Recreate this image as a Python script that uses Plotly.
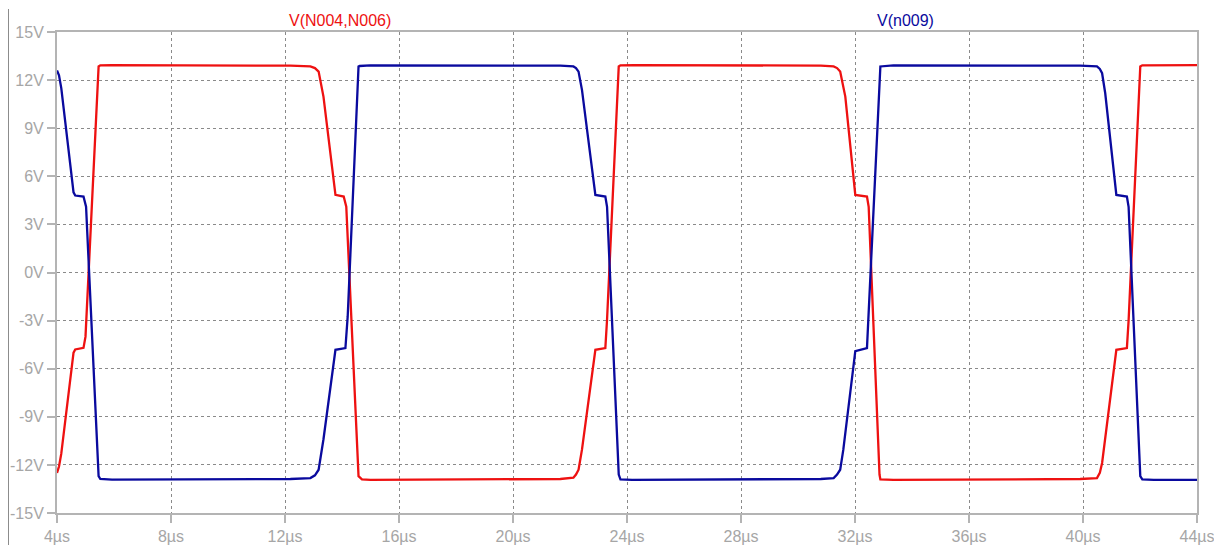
import plotly.graph_objects as go

# ---- data (time in µs, voltage in V) ----
red_t = [4.00, 4.07, 4.15, 4.58, 4.64, 4.93, 5.00, 5.46, 5.52, 5.93,
         12.19, 12.89, 13.05, 13.18, 13.35, 13.77, 14.06, 14.15, 14.58, 14.70, 15.00,
         21.66, 22.12, 22.21, 22.30, 22.42, 22.89, 23.24, 23.30, 23.71, 23.77, 24.23,
         30.80, 31.25, 31.37, 31.48, 31.66, 32.01, 32.42, 32.48, 32.86, 32.89, 33.35,
         39.90, 40.49, 40.59, 40.67, 40.78, 41.17, 41.54, 41.60, 42.01, 42.08, 44.00]
red_v = [-12.5, -12.1, -11.3, -5.0, -4.8, -4.7, -4.0, 12.85, 12.92, 12.94,
         12.90, 12.85, 12.75, 12.53, 10.97, 4.84, 4.74, 4.10, -12.70, -12.90, -12.93,
         -12.88, -12.80, -12.60, -12.30, -11.05, -4.82, -4.71, -2.95, 12.85, 12.92, 12.94,
         12.90, 12.85, 12.75, 12.53, 10.97, 4.84, 4.74, 4.10, -12.60, -12.90, -12.93,
         -12.88, -12.82, -12.50, -11.88, -10.40, -4.82, -4.71, -3.00, 12.85, 12.92, 12.94]

blue_t = [4.00, 4.07, 4.15, 4.58, 4.64, 4.93, 5.02, 5.46, 5.52, 5.93,
          12.19, 12.89, 13.05, 13.18, 13.35, 13.77, 14.12, 14.20, 14.58, 14.62, 14.99,
          21.66, 22.12, 22.21, 22.30, 22.42, 22.89, 23.24, 23.30, 23.71, 23.77, 24.18,
          30.80, 31.25, 31.37, 31.48, 31.59, 32.01, 32.42, 32.46, 32.89, 33.35,
          39.90, 40.49, 40.59, 40.67, 40.78, 41.17, 41.54, 41.60, 42.01, 42.08, 42.48, 44.00]
blue_v = [12.6, 12.3, 11.5, 5.0, 4.8, 4.74, 4.1, -12.7, -12.88, -12.92,
          -12.88, -12.82, -12.65, -12.30, -10.40, -4.82, -4.71, -2.74, 12.85, 12.88, 12.92,
          12.90, 12.85, 12.75, 12.53, 11.39, 4.84, 4.74, 4.10, -12.60, -12.90, -12.93,
          -12.88, -12.82, -12.60, -12.30, -11.05, -4.90, -4.71, -3.15, 12.85, 12.92,
          12.90, 12.85, 12.70, 12.43, 11.18, 4.84, 4.74, 4.10, -12.70, -12.90, -12.93, -12.93]

x_ticks = [4, 8, 12, 16, 20, 24, 28, 32, 36, 40, 44]
x_labels = [f"{v}µs" for v in x_ticks]
y_ticks = [-15, -12, -9, -6, -3, 0, 3, 6, 9, 12, 15]
y_labels = [f"{v}V" for v in y_ticks]

series_names = ["V(N004,N006)", "V(n009)"]
RED = "#ee1111"
BLUE = "#0a0a9e"
GREY = "#b4b4b4"
TXT = "#a6a6a6"
GRID = "#8a8a8a"
FONT = "Liberation Sans, Arial"

# page is rendered with an 8px body margin -> figure starts at page (8, 8)
OFF = 8
PL, PR, PT, PB = 57, 1197, 32, 513          # plot area in page pixels
FIG_W, FIG_H = 1222 - OFF, 545 - OFF
pw, ph = PR - PL, PB - PT


def px(x):
    return (x - PL) / pw


def py(y):
    return (PB - y) / ph


fig = go.Figure()
fig.add_trace(go.Scatter(x=red_t, y=red_v, mode="lines", name=series_names[0],
                         line=dict(color=RED, width=2.3), showlegend=False))
fig.add_trace(go.Scatter(x=blue_t, y=blue_v, mode="lines", name=series_names[1],
                         line=dict(color=BLUE, width=2.3), showlegend=False))

axis_common = dict(showline=True, linecolor=GREY, linewidth=2, mirror=True,
                   ticks="outside", tickcolor=GREY, tickwidth=2, ticklen=8,
                   showgrid=True, gridcolor=GRID, gridwidth=1, griddash="3px,3px",
                   zeroline=False, automargin=False,
                   tickfont=dict(family=FONT, size=16, color=TXT))

fig.update_xaxes(range=[4, 44], tickvals=x_ticks, ticktext=x_labels, **axis_common)
fig.update_yaxes(range=[-15, 15], tickvals=y_ticks, ticktext=y_labels, **axis_common)

annots = [
    dict(text=series_names[0], x=px(340), y=py(20), xref="paper", yref="paper",
         xanchor="center", yanchor="middle", showarrow=False,
         font=dict(family=FONT, size=16, color=RED)),
    dict(text=series_names[1], x=px(905), y=py(20), xref="paper", yref="paper",
         xanchor="center", yanchor="middle", showarrow=False,
         font=dict(family=FONT, size=16, color=BLUE)),
    # window edges seen in the reference, drawn as empty boxes
    dict(text="", x=px(8), y=py(9), xref="paper", yref="paper",
         xanchor="left", yanchor="top", showarrow=False,
         width=1, height=536, bgcolor="#8c8c8c", borderpad=0, borderwidth=0),
    dict(text="", x=px(1216), y=py(9), xref="paper", yref="paper",
         xanchor="left", yanchor="top", showarrow=False,
         width=6, height=536, bgcolor="#3d434b", borderpad=0, borderwidth=0),
    dict(text="", x=px(1216), y=py(73), xref="paper", yref="paper",
         xanchor="left", yanchor="top", showarrow=False,
         width=4, height=30, bgcolor="#2fa82f", borderpad=0, borderwidth=0),
]

fig.update_layout(
    width=FIG_W, height=FIG_H,
    margin=dict(l=PL - OFF, r=1222 - PR, t=PT - OFF, b=545 - PB),
    paper_bgcolor="white", plot_bgcolor="white",
    annotations=annots,
)

fig.write_html("out.html")
